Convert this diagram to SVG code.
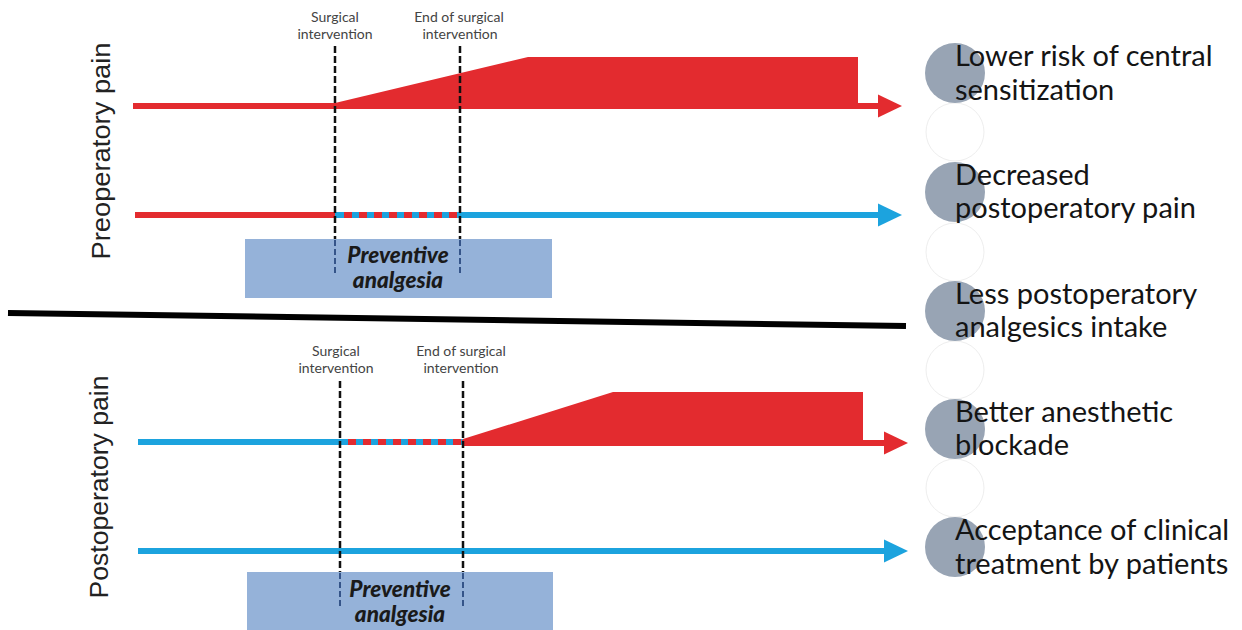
<svg xmlns="http://www.w3.org/2000/svg" width="1242" height="630" viewBox="0 0 1242 630">
<style>
.red{stroke:#e32b2f;stroke-width:6;fill:none}
.blue{stroke:#1ca3de;stroke-width:6;fill:none}
.redfill{fill:#e32b2f}
.dashr{stroke:#e32b2f;stroke-width:6;stroke-dasharray:8 7;fill:none}
.vdash{stroke:#111;stroke-width:2.5;stroke-dasharray:7 3;fill:none}
.vdashin{stroke:#2b4a80;stroke-width:1.8;stroke-dasharray:6 3;fill:none}
.box{fill:#95b2d9}
.boxtxt{font-family:Lato,'Liberation Sans',sans-serif;font-weight:900;font-style:italic;font-size:22.5px;fill:#1a1a1a;text-anchor:middle}
.small{font-family:Lato,'Liberation Sans',sans-serif;font-size:14px;fill:#444;text-anchor:middle}
.side{font-family:'Liberation Sans',Arial,sans-serif;font-size:26px;fill:#222}
.out{font-family:Lato,'Liberation Sans',sans-serif;font-size:29px;fill:#141414}
.gc{fill:#98a4b4}
.wc{fill:#fff;stroke:#eeeeee;stroke-width:1}
</style>
<defs>
<marker id="ahr" markerUnits="userSpaceOnUse" markerWidth="24" markerHeight="24" refX="8" refY="11.5" orient="auto" viewBox="0 0 24 23">
<path d="M0,0 L24,11.5 L0,23 z" fill="#e32b2f"/>
</marker>
<marker id="ahb" markerUnits="userSpaceOnUse" markerWidth="24" markerHeight="24" refX="8" refY="11.5" orient="auto" viewBox="0 0 24 23">
<path d="M0,0 L24,11.5 L0,23 z" fill="#1ca3de"/>
</marker>
</defs>

<!-- Side labels -->
<g id="label-preop">
<text class="side" transform="translate(110,151) rotate(-90)" text-anchor="middle" textLength="217" lengthAdjust="spacingAndGlyphs">Preoperatory pain</text>
</g>
<g id="label-postop">
<text class="side" transform="translate(108,487) rotate(-90)" text-anchor="middle" textLength="223" lengthAdjust="spacingAndGlyphs">Postoperatory pain</text>
</g>

<!-- Boxes -->
<g id="box-top">
<rect class="box" x="245" y="239" width="307" height="59"/>
</g>
<g id="box-bottom">
<rect class="box" x="247" y="572" width="306" height="58"/>
</g>

<!-- Connectors / timelines -->
<g id="connectors">
<!-- top panel line 1 -->
<polygon class="redfill" points="335,103 528,57 858,57 858,109 335,109"/>
<line class="red" x1="133" y1="106" x2="886" y2="106" marker-end="url(#ahr)"/>
<!-- top panel line 2 -->
<line class="red" x1="135" y1="215" x2="336" y2="215"/>
<line class="blue" x1="335" y1="215" x2="886" y2="215" marker-end="url(#ahb)"/>
<line class="dashr" x1="344" y1="215" x2="460" y2="215"/>
<!-- bottom panel line 1 -->
<line class="blue" x1="138" y1="442" x2="463" y2="442"/>
<line class="dashr" x1="348" y1="442" x2="463" y2="442"/>
<polygon class="redfill" points="463,439 613,392 863,392 863,446 463,446"/>
<line class="red" x1="462" y1="443" x2="892" y2="443" marker-end="url(#ahr)"/>
<!-- bottom panel line 2 -->
<line class="blue" x1="138" y1="551" x2="892" y2="551" marker-end="url(#ahb)"/>
<!-- divider -->
<line x1="8" y1="313" x2="906" y2="326" stroke="#000" stroke-width="6"/>
<!-- vertical dashed markers -->
<line class="vdash" x1="335" y1="46" x2="335" y2="239"/>
<line class="vdash" x1="460" y1="46" x2="460" y2="239"/>
<line class="vdashin" x1="335" y1="240" x2="335" y2="274"/>
<line class="vdashin" x1="460" y1="240" x2="460" y2="274"/>
<line class="vdash" x1="340" y1="381" x2="340" y2="572"/>
<line class="vdash" x1="463" y1="381" x2="463" y2="572"/>
<line class="vdashin" x1="340" y1="573" x2="340" y2="608"/>
<line class="vdashin" x1="463" y1="573" x2="463" y2="608"/>
</g>

<!-- box texts -->
<g id="box-top-text">
<text class="boxtxt" x="398" y="263">Preventive</text>
<text class="boxtxt" x="398" y="288">analgesia</text>
</g>
<g id="box-bottom-text">
<text class="boxtxt" x="400" y="597">Preventive</text>
<text class="boxtxt" x="400" y="622">analgesia</text>
</g>

<!-- event labels -->
<g id="top-surgical">
<text class="small" x="335" y="22">Surgical</text>
<text class="small" x="335" y="39">intervention</text>
</g>
<g id="top-end">
<text class="small" x="459" y="22">End of surgical</text>
<text class="small" x="460" y="39">intervention</text>
</g>
<g id="bottom-surgical">
<text class="small" x="336" y="356">Surgical</text>
<text class="small" x="336" y="373">intervention</text>
</g>
<g id="bottom-end">
<text class="small" x="461" y="356">End of surgical</text>
<text class="small" x="461" y="373">intervention</text>
</g>

<!-- Outcomes -->
<g id="spacer-circles">
<circle class="wc" cx="955" cy="132" r="29"/>
<circle class="wc" cx="955" cy="252" r="29"/>
<circle class="wc" cx="955" cy="370" r="29"/>
<circle class="wc" cx="955" cy="488" r="29"/>
</g>
<g id="outcome-1">
<circle class="gc" cx="955" cy="73" r="30"/>
<text class="out" x="955" y="66">Lower risk of central</text>
<text class="out" x="955" y="100">sensitization</text>
</g>
<g id="outcome-2">
<circle class="gc" cx="955" cy="192" r="30"/>
<text class="out" x="955" y="185">Decreased</text>
<text class="out" x="955" y="218">postoperatory pain</text>
</g>
<g id="outcome-3">
<circle class="gc" cx="955" cy="311" r="30"/>
<text class="out" x="955" y="304">Less postoperatory</text>
<text class="out" x="955" y="337">analgesics intake</text>
</g>
<g id="outcome-4">
<circle class="gc" cx="955" cy="429" r="30"/>
<text class="out" x="955" y="422">Better anesthetic</text>
<text class="out" x="955" y="455">blockade</text>
</g>
<g id="outcome-5">
<circle class="gc" cx="955" cy="547" r="30"/>
<text class="out" x="955" y="540">Acceptance of clinical</text>
<text class="out" x="955" y="574">treatment by patients</text>
</g>
</svg>
